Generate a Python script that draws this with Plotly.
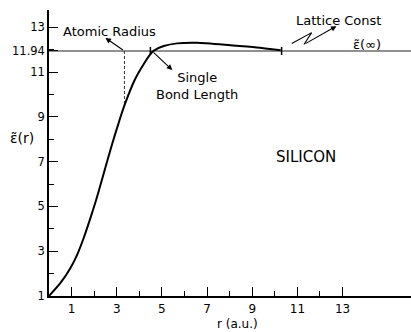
import numpy as np
import plotly.graph_objects as go

# Dielectric function of silicon vs. radius
r_au = [0, 0.5, 0.95, 1.25, 1.54, 1.84, 2.06, 2.2, 2.5, 2.8, 3.09, 3.38,
        3.82, 4.19, 4.49, 4.63, 5.08, 5.67, 6.55, 8.02, 9.2, 10.26]
eps_r = [1, 1.57, 2.25, 2.85, 3.6, 4.5, 5.2, 5.68, 6.75, 7.8, 8.75, 9.62,
         10.7, 11.35, 11.8, 11.95, 12.16, 12.28, 12.31, 12.2, 12.1, 11.97]

eps_inf = 11.94
atomic_radius = 3.34
bond_length = 4.49
lattice_const = 10.3

x_major = [1, 3, 5, 7, 9, 11, 13]
x_minor = [2, 4, 6, 8, 10, 12]
y_tickvals = [1, 3, 5, 7, 9, 11, 11.94, 13]
y_ticktext = ["1", "3", "5", "7", "9", "11", "11.94", "13"]
y_minor = [2, 4, 6, 8, 10, 12]

FONT = "DejaVu Sans"
x_range = [0, 16.03]
y_range = [1, 13.77]

fig = go.Figure()

# eps(infinity) reference line
fig.add_trace(go.Scatter(x=x_range, y=[eps_inf, eps_inf], mode="lines",
                         line=dict(color="#222", width=1.1), hoverinfo="skip"))

# atomic radius dashed drop line down to the curve
eps_at_radius = float(np.interp(atomic_radius, r_au, eps_r))
fig.add_trace(go.Scatter(x=[atomic_radius, atomic_radius], y=[eps_inf, eps_at_radius],
                         mode="lines", line=dict(color="#333", width=1, dash="3px,2px"),
                         hoverinfo="skip"))

# main curve
fig.add_trace(go.Scatter(x=r_au, y=eps_r, mode="lines",
                         line=dict(color="black", width=2, shape="spline", smoothing=0.6),
                         hoverinfo="skip"))

# small tick marks on the reference line
for xv in (bond_length, lattice_const):
    fig.add_trace(go.Scatter(x=[xv, xv], y=[eps_inf - 0.18, eps_inf + 0.18], mode="lines",
                             line=dict(color="black", width=1.5), hoverinfo="skip"))

# zigzag leader for the lattice constant
fig.add_trace(go.Scatter(x=[10.75, 11.63, 11.29], y=[12.27, 12.76, 12.23], mode="lines",
                         line=dict(color="black", width=1.1), hoverinfo="skip"))

txt = dict(family=FONT, size=13, color="black")
ann = [
    dict(x=2.67, y=12.79, text="Atomic Radius", showarrow=False, font=txt),
    dict(x=2.5, y=12.52, ax=atomic_radius, ay=eps_inf, axref="x", ayref="y",
         xref="x", yref="y", text="", showarrow=True, arrowhead=2, arrowsize=1,
         arrowwidth=1.1, arrowcolor="black", standoff=0),
    dict(x=6.56, y=10.375, text="Single<br>Bond Length", showarrow=False, font=txt,
         align="center"),
    dict(x=5.46, y=11.09, ax=4.56, ay=eps_inf, axref="x", ayref="y",
         xref="x", yref="y", text="", showarrow=True, arrowhead=2, arrowsize=1,
         arrowwidth=1.1, arrowcolor="black", standoff=0),
    dict(x=12.84, y=13.32, text="Lattice Const", showarrow=False, font=txt),
    dict(x=12.73, y=13.05, ax=11.29, ay=12.23, axref="x", ayref="y",
         xref="x", yref="y", text="", showarrow=True, arrowhead=2, arrowsize=1,
         arrowwidth=1.1, arrowcolor="black", standoff=0),
    dict(x=14.1, y=12.25, text="ε\u0303(∞)", showarrow=False, font=txt),
    dict(x=11.38, y=7.2, text="SILICON", showarrow=False,
         font=dict(family=FONT, size=15, color="black")),
    dict(xref="paper", yref="paper", x=-0.0746, y=0.553, xanchor="center",
         yanchor="middle", text="ε\u0303(r)", showarrow=False,
         font=dict(family=FONT, size=14, color="black")),
    dict(xref="paper", yref="paper", x=0.52, y=-0.099, xanchor="center",
         yanchor="middle", text="r (a.u.)", showarrow=False,
         font=dict(family=FONT, size=12, color="black")),
]

fig.update_layout(
    width=411, height=332,
    margin=dict(l=49, r=0, t=10, b=36),
    paper_bgcolor="white", plot_bgcolor="white",
    showlegend=False,
    annotations=ann,
    font=dict(family=FONT, size=12, color="black"),
    xaxis=dict(range=x_range, tickmode="array", tickvals=x_major,
               ticktext=[str(v) for v in x_major],
               ticks="inside", ticklen=9, tickwidth=1.3, tickcolor="black",
               ticklabelstandoff=1,
               showline=True, linecolor="black", linewidth=1.5,
               showgrid=False, zeroline=False,
               minor=dict(tickmode="array", tickvals=x_minor, ticks="inside",
                          ticklen=5, tickwidth=1.3, tickcolor="black", showgrid=False),
               tickfont=dict(family=FONT, size=12)),
    yaxis=dict(range=y_range, tickmode="array", tickvals=y_tickvals, ticktext=y_ticktext,
               ticks="inside", ticklen=9, tickwidth=1.3, tickcolor="black",
               showline=True, linecolor="black", linewidth=1.5,
               showgrid=False, zeroline=False,
               minor=dict(tickmode="array", tickvals=y_minor, ticks="inside",
                          ticklen=5, tickwidth=1.3, tickcolor="black", showgrid=False),
               tickfont=dict(family=FONT, size=11.5)),
)

fig.write_html("out.html")
